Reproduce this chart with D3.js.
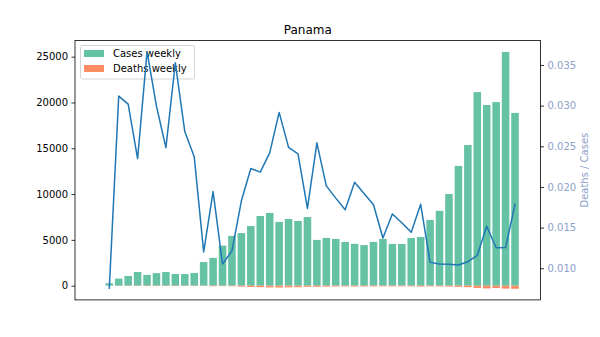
<!DOCTYPE html>
<html>
<head>
<meta charset="utf-8">
<script src="https://cdn.jsdelivr.net/npm/d3@7"></script>
<style>
  html, body { margin: 0; padding: 0; background: #fff; }
  svg { display: block; font-family: "DejaVu Sans", sans-serif; }
</style>
</head>
<body>
<svg id="chart" width="600" height="337"></svg>
<script>
// Weekly COVID-19 figures for Panama
const title = "Panama";
const weeks = d3.range(44);
const casesWeekly = [265, 770, 1060, 1490, 1174, 1370, 1490, 1276, 1268, 1391,
  2580, 3036, 4370, 5440, 5740, 6510, 7605, 7940, 6960, 7280,
  7065, 7490, 4995, 5215, 5100, 4770, 4570, 4430, 4775, 5105,
  4560, 4550, 5200, 5316, 7180, 8170, 10010, 13075, 15360, 21130,
  19725, 20040, 25520, 18855];
const deathsWeekly = [2, 24, 32, 35, 43, 41, 37, 45, 34, 33,
  31, 59, 46, 66, 105, 145, 166, 192, 203, 181,
  170, 130, 127, 105, 95, 82, 94, 85, 85, 70,
  76, 71, 75, 95, 77, 86, 105, 136, 166, 245,
  299, 251, 320, 337];
const leftTicks = [0, 5000, 10000, 15000, 20000, 25000];
const rightTicks = [0.010, 0.015, 0.020, 0.025, 0.030, 0.035];
const legendLabels = ["Cases weekly", "Deaths weekly"];

const ratio = weeks.map(i => deathsWeekly[i] / casesWeekly[i]);

const colors = { cases: "#66c2a5", deaths: "#fc8d62", line: "#1f77b4", right: "#8da0cb" };
const plot = { left: 75, right: 540.5, top: 40.4, bottom: 299.9 };

const svg = d3.select("#chart");

const x = d3.scaleLinear().domain([-3.635, 45.7]).range([plot.left, plot.right]);
const y = d3.scaleLinear().domain([-1553, 26775]).range([plot.bottom, plot.top]);
const y2 = d3.scaleLinear().domain([0.00611, 0.03802]).range([plot.bottom, plot.top]);
const barW = 0.8;

// cases above zero, deaths drawn downward from zero
svg.append("g").selectAll("rect").data(weeks).join("rect")
  .attr("x", i => x(i - barW / 2))
  .attr("width", x(barW) - x(0))
  .attr("y", i => y(casesWeekly[i]))
  .attr("height", i => y(0) - y(casesWeekly[i]))
  .attr("fill", colors.cases);

svg.append("g").selectAll("rect").data(weeks).join("rect")
  .attr("x", i => x(i - barW / 2))
  .attr("width", x(barW) - x(0))
  .attr("y", y(0))
  .attr("height", i => y(-deathsWeekly[i]) - y(0))
  .attr("fill", colors.deaths);

// left axis
const axL = svg.append("g")
  .attr("transform", `translate(${plot.left},0)`)
  .call(d3.axisLeft(y).tickValues(leftTicks).tickFormat(d3.format("d")).tickSize(3.5).tickPadding(3.5));
axL.select(".domain").remove();
axL.selectAll("text").attr("font-size", 10).attr("fill", "#000").attr("font-family", "DejaVu Sans");
axL.selectAll("line").attr("stroke", "#000").attr("stroke-width", 0.8);

// right axis
const axR = svg.append("g")
  .attr("transform", `translate(${plot.right},0)`)
  .call(d3.axisRight(y2).tickValues(rightTicks).tickFormat(d3.format(".3f")).tickSize(3.5).tickPadding(3.5));
axR.select(".domain").remove();
axR.selectAll("text").attr("font-size", 10).attr("fill", colors.right).attr("font-family", "DejaVu Sans");
axR.selectAll("line").attr("stroke", "#000").attr("stroke-width", 0.8);

svg.append("text")
  .attr("transform", `translate(584.5,${(plot.top + plot.bottom) / 2}) rotate(-90)`)
  .attr("text-anchor", "middle")
  .attr("dominant-baseline", "central")
  .attr("font-size", 10)
  .attr("fill", colors.right)
  .text("Deaths / Cases");

// frame
svg.append("rect")
  .attr("x", plot.left).attr("y", plot.top)
  .attr("width", plot.right - plot.left).attr("height", plot.bottom - plot.top)
  .attr("fill", "none").attr("stroke", "#000").attr("stroke-width", 0.8);

// title
svg.append("text")
  .attr("x", (plot.left + plot.right) / 2).attr("y", 34.4)
  .attr("text-anchor", "middle")
  .attr("font-size", 12)
  .attr("fill", "#000")
  .text(title);

// legend
const lg = svg.append("g").attr("transform", "translate(80.5,45.5)");
lg.append("rect")
  .attr("width", 114).attr("height", 33.5).attr("rx", 2).attr("ry", 2)
  .attr("fill", "#fff").attr("fill-opacity", 0.8)
  .attr("stroke", "#cccccc").attr("stroke-width", 0.8);
[colors.cases, colors.deaths].forEach((c, k) => {
  lg.append("rect")
    .attr("x", 3.5).attr("y", 4.5 + k * 15).attr("width", 20).attr("height", 7)
    .attr("fill", c);
  lg.append("text")
    .attr("x", 32.5).attr("y", 8 + k * 15)
    .attr("dominant-baseline", "central")
    .attr("font-size", 10).attr("fill", "#000")
    .text(legendLabels[k]);
});

// deaths / cases ratio line on the secondary axis
svg.append("path")
  .datum(weeks)
  .attr("d", d3.line().x(i => x(i)).y(i => y2(ratio[i])))
  .attr("fill", "none")
  .attr("stroke", colors.line)
  .attr("stroke-width", 1.5)
  .attr("stroke-linejoin", "round")
  .attr("stroke-linecap", "square");
</script>
</body>
</html>
